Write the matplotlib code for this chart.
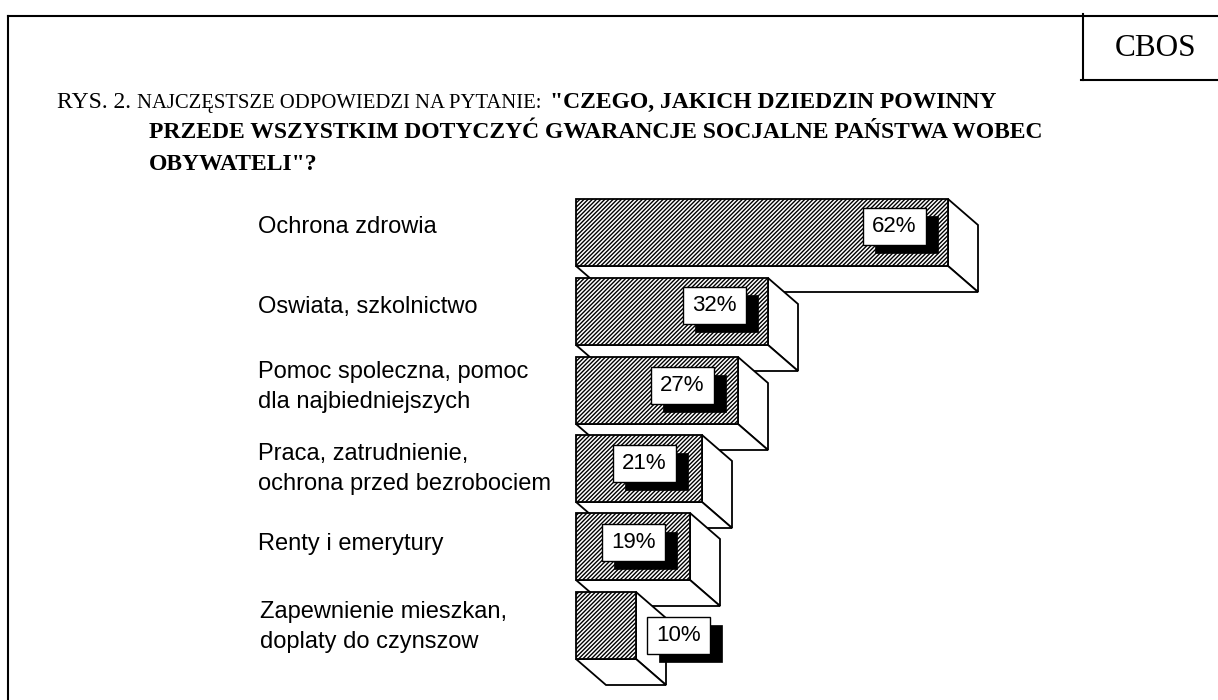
import matplotlib
matplotlib.use('Agg')
import matplotlib.pyplot as plt
from matplotlib.lines import Line2D
from matplotlib.patches import Polygon, Rectangle

W, H = 1218, 700

categories = [
    "Ochrona zdrowia",
    "Oswiata, szkolnictwo",
    "Pomoc spoleczna, pomoc\ndla najbiedniejszych",
    "Praca, zatrudnienie,\nochrona przed bezrobociem",
    "Renty i emerytury",
    "Zapewnienie mieszkan,\ndoplaty do czynszow",
]
values = [62, 32, 27, 21, 19, 10]

# layout, in pixels of the page
PX_PER_PCT = 6
BAR_LEFT = 576
BAR_H = 67
DX, DY = 30, 26
bar_tops = [199, 278, 357, 435, 513, 592]
label_x = [258, 258, 258, 258, 258, 260]
label_base = [233, 313, 378, 460, 550, 618]  # baseline of the first line
LINE_GAP = 30
box_left = [863, 683, 651, 613, 602, 647]
box_top = [208, 287, 367, 445, 524, 617]
BOX_W, BOX_H = 63, 37
SHADOW_X, SHADOW_Y = 12, 8

plt.rcParams['hatch.linewidth'] = 1.0
plt.rcParams['font.family'] = 'Liberation Serif'

fig = plt.figure(figsize=(W / 100, H / 100), dpi=100)
# x axis in percent, zero at the bars' left edge; y axis in page pixels
ax = fig.add_axes([0, 0, 1, 1])
ax.set_xlim(-BAR_LEFT / PX_PER_PCT, (W - BAR_LEFT) / PX_PER_PCT)
ax.set_ylim(H, 0)
ax.axis('off')


def px(x):
    return (x - BAR_LEFT) / PX_PER_PCT


ddx = DX / PX_PER_PCT
for i, (name, val) in enumerate(zip(categories, values)):
    top = bar_tops[i]
    bot = top + BAR_H
    z = 2 + i * 2
    # right side and underside of the block
    ax.add_patch(Polygon([(val, top), (val + ddx, top + DY), (val + ddx, bot + DY), (val, bot)],
                         fc='white', ec='black', lw=1.3, zorder=z))
    ax.add_patch(Polygon([(0, bot), (ddx, bot + DY), (val + ddx, bot + DY), (val, bot)],
                         fc='white', ec='black', lw=1.3, zorder=z))
    ax.barh(top + BAR_H / 2, val, height=BAR_H, left=0, color='white', edgecolor='black',
            hatch='/' * 8, lw=1.3, zorder=z + 0.5)

    # value box with drop shadow
    ax.add_patch(Rectangle((px(box_left[i] + SHADOW_X), box_top[i] + SHADOW_Y),
                           BOX_W / PX_PER_PCT, BOX_H, fc='black', ec='black', lw=0.5, zorder=20))
    ax.add_patch(Rectangle((px(box_left[i]), box_top[i]),
                           BOX_W / PX_PER_PCT, BOX_H, fc='white', ec='black', lw=1.0, zorder=21))
    ax.text(px(box_left[i] + BOX_W / 2), box_top[i] + BOX_H / 2, f"{val}%", ha='center', va='center',
            family='Liberation Sans', fontsize=16, zorder=22)

    for k, line in enumerate(name.split("\n")):
        ax.text(px(label_x[i]), label_base[i] + k * LINE_GAP, line, ha='left', va='baseline',
                family='Liberation Sans', fontsize=17)


def page_line(xs, ys, lw=1.5):
    fig.add_artist(Line2D([x / W for x in xs], [1 - y / H for y in ys], color='black', lw=lw))


page_line([8, W], [16, 16])
page_line([8, 8], [16, H])
page_line([1083, 1083], [14, 80])
page_line([1081, W], [80, 80])


def page_text(x, y, s, size, weight='normal'):
    return fig.text(x / W, 1 - y / H, s, fontsize=size, fontweight=weight, ha='left', va='baseline')


page_text(1115, 56, "CBOS", 22.5)
page_text(57, 108, "RYS. 2.", 17)
page_text(137, 108, "NAJCZĘSTSZE ODPOWIEDZI NA PYTANIE:", 14.9)
page_text(550, 108, "\"CZEGO, JAKICH DZIEDZIN POWINNY", 17, 'bold')
page_text(149, 138, "PRZEDE WSZYSTKIM DOTYCZYĆ GWARANCJE SOCJALNE PAŃSTWA WOBEC", 17, 'bold')
page_text(149, 170, "OBYWATELI\"?", 17, 'bold')

fig.savefig("out.png", dpi=100, facecolor='white')
